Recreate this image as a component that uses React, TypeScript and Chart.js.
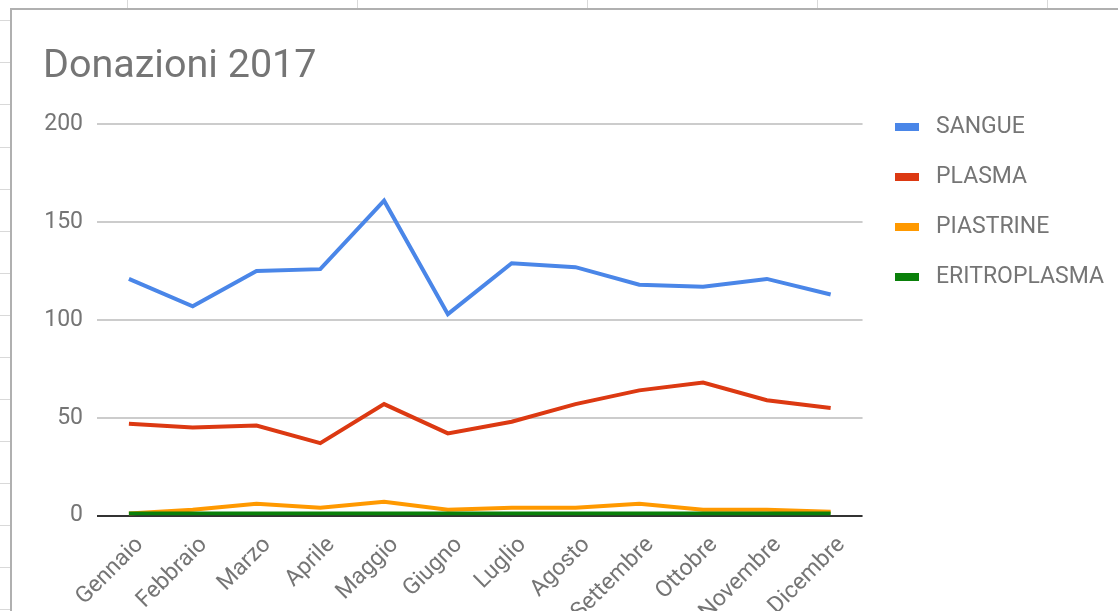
import React, { useEffect, useRef } from "react";
import { Chart, registerables } from "chart.js";

Chart.register(...registerables);

const months = ["Gennaio", "Febbraio", "Marzo", "Aprile", "Maggio", "Giugno", "Luglio", "Agosto", "Settembre", "Ottobre", "Novembre", "Dicembre"];
const sangue = [121, 107, 125, 126, 161, 103, 129, 127, 118, 117, 121, 113];
const plasma = [47, 45, 46, 37, 57, 42, 48, 57, 64, 68, 59, 55];
const piastrine = [1, 3, 6, 4, 7, 3, 4, 4, 6, 3, 3, 2];
const eritroplasma = [1, 1, 1, 1, 1, 1, 1, 1, 1, 1, 1, 1];
const seriesNames = ["SANGUE", "PLASMA", "PIASTRINE", "ERITROPLASMA"];
const seriesColors = ["#4A86E8", "#DC3912", "#FF9900", "#0A800A"];
const yTicks = [0, 50, 100, 150, 200];

const TEXT = "#757575";

function swatch(color: string) {
  const c = document.createElement("canvas");
  c.width = 24;
  c.height = 8;
  const g = c.getContext("2d");
  if (g) {
    g.fillStyle = color;
    g.fillRect(0, 0, 24, 8);
  }
  return c;
}

export default function App() {
  const ref = useRef<HTMLCanvasElement | null>(null);

  useEffect(() => {
    if (!ref.current) return;
    Chart.defaults.font.family = "Roboto";
    const values = [sangue, plasma, piastrine, eritroplasma];
    const swatches = seriesColors.map(swatch);
    const chart = new Chart(ref.current, {
      type: "line",
      data: {
        labels: months,
        datasets: values.map((v, i) => ({
          label: seriesNames[i],
          data: v,
          borderColor: seriesColors[i],
          backgroundColor: seriesColors[i],
          borderWidth: 4,
          pointRadius: 0,
          pointHoverRadius: 0,
          tension: 0,
          fill: false,
          order: values.length - 1 - i,
        })),
      },
      options: {
        responsive: false,
        animation: false,
        events: [],
        layout: { autoPadding: false, padding: { top: 0, left: 31, right: 0, bottom: 0 } },
        plugins: {
          tooltip: { enabled: false },
          title: {
            display: true,
            text: "Donazioni 2017",
            align: "start",
            color: TEXT,
            font: { size: 39.5, weight: "normal", family: "Roboto" },
            padding: { top: 33, bottom: 34 },
          },
          legend: {
            position: "right",
            align: "start",
            title: { display: true, text: "", font: { size: 10, lineHeight: 1 }, padding: { top: 68.5, bottom: 0 } },
            labels: {
              color: TEXT,
              font: { size: 23, family: "Roboto" },
              padding: 27,
              usePointStyle: true,
              pointStyleWidth: 35,
              boxHeight: 8,
              sort: (a: any, b: any) => a.datasetIndex - b.datasetIndex,
              generateLabels: (ch: any) => {
                const items = (Chart.defaults.plugins.legend.labels as any).generateLabels(ch);
                return items.map((it: any) => ({ ...it, pointStyle: swatches[it.datasetIndex], fontColor: TEXT }));
              },
            },
          },
        },
        scales: {
          x: {
            offset: true,
            grid: { display: false, drawTicks: false },
            border: { display: false },
            afterFit: (axis: any) => {
              axis.paddingLeft = 0;
              axis.paddingRight = 0;
            },
            ticks: {
              color: TEXT,
              font: { size: 23, family: "Roboto" },
              maxRotation: 45,
              minRotation: 45,
              autoSkip: false,
              padding: 16,
              labelOffset: 11,
            },
          },
          y: {
            min: 0,
            max: 200,
            afterBuildTicks: (axis: any) => {
              axis.ticks = yTicks.map((v) => ({ value: v }));
            },
            afterFit: (axis: any) => {
              axis.width = 54;
            },
            grid: {
              drawTicks: false,
              lineWidth: 2,
              color: (ctx: any) => (ctx.tick && ctx.tick.value === 0 ? "#333333" : "#cccccc"),
            },
            border: { display: false },
            ticks: {
              color: TEXT,
              font: { size: 23, family: "Roboto" },
              padding: 14,
            },
          },
        },
      },
    });
    return () => chart.destroy();
  }, []);

  const colX = [127, 357, 587, 817, 1047];
  const rowY = [20, 62, 104, 147, 189, 231, 273, 315, 357, 399, 441, 483, 525, 567, 609];

  return (
    <div style={{ position: "fixed", left: 0, top: 0, right: 0, bottom: 0, overflow: "hidden", background: "#ffffff" }}>
      {colX.map((x) => (
        <div key={"c" + x} style={{ position: "absolute", left: x, top: 0, width: 1, height: 8, background: "#d9d9d9" }} />
      ))}
      {rowY.map((y) => (
        <div key={"r" + y} style={{ position: "absolute", left: 0, top: y, width: 10, height: 1, background: "#d9d9d9" }} />
      ))}
      <div
        style={{
          position: "absolute",
          left: 10,
          top: 8,
          width: 1200,
          height: 700,
          borderLeft: "2px solid #b0b0b0",
          borderTop: "2px solid #b0b0b0",
          background: "#ffffff",
        }}
      />
      <canvas ref={ref} width={1102} height={632} style={{ position: "absolute", left: 12, top: 10 }} />
    </div>
  );
}
